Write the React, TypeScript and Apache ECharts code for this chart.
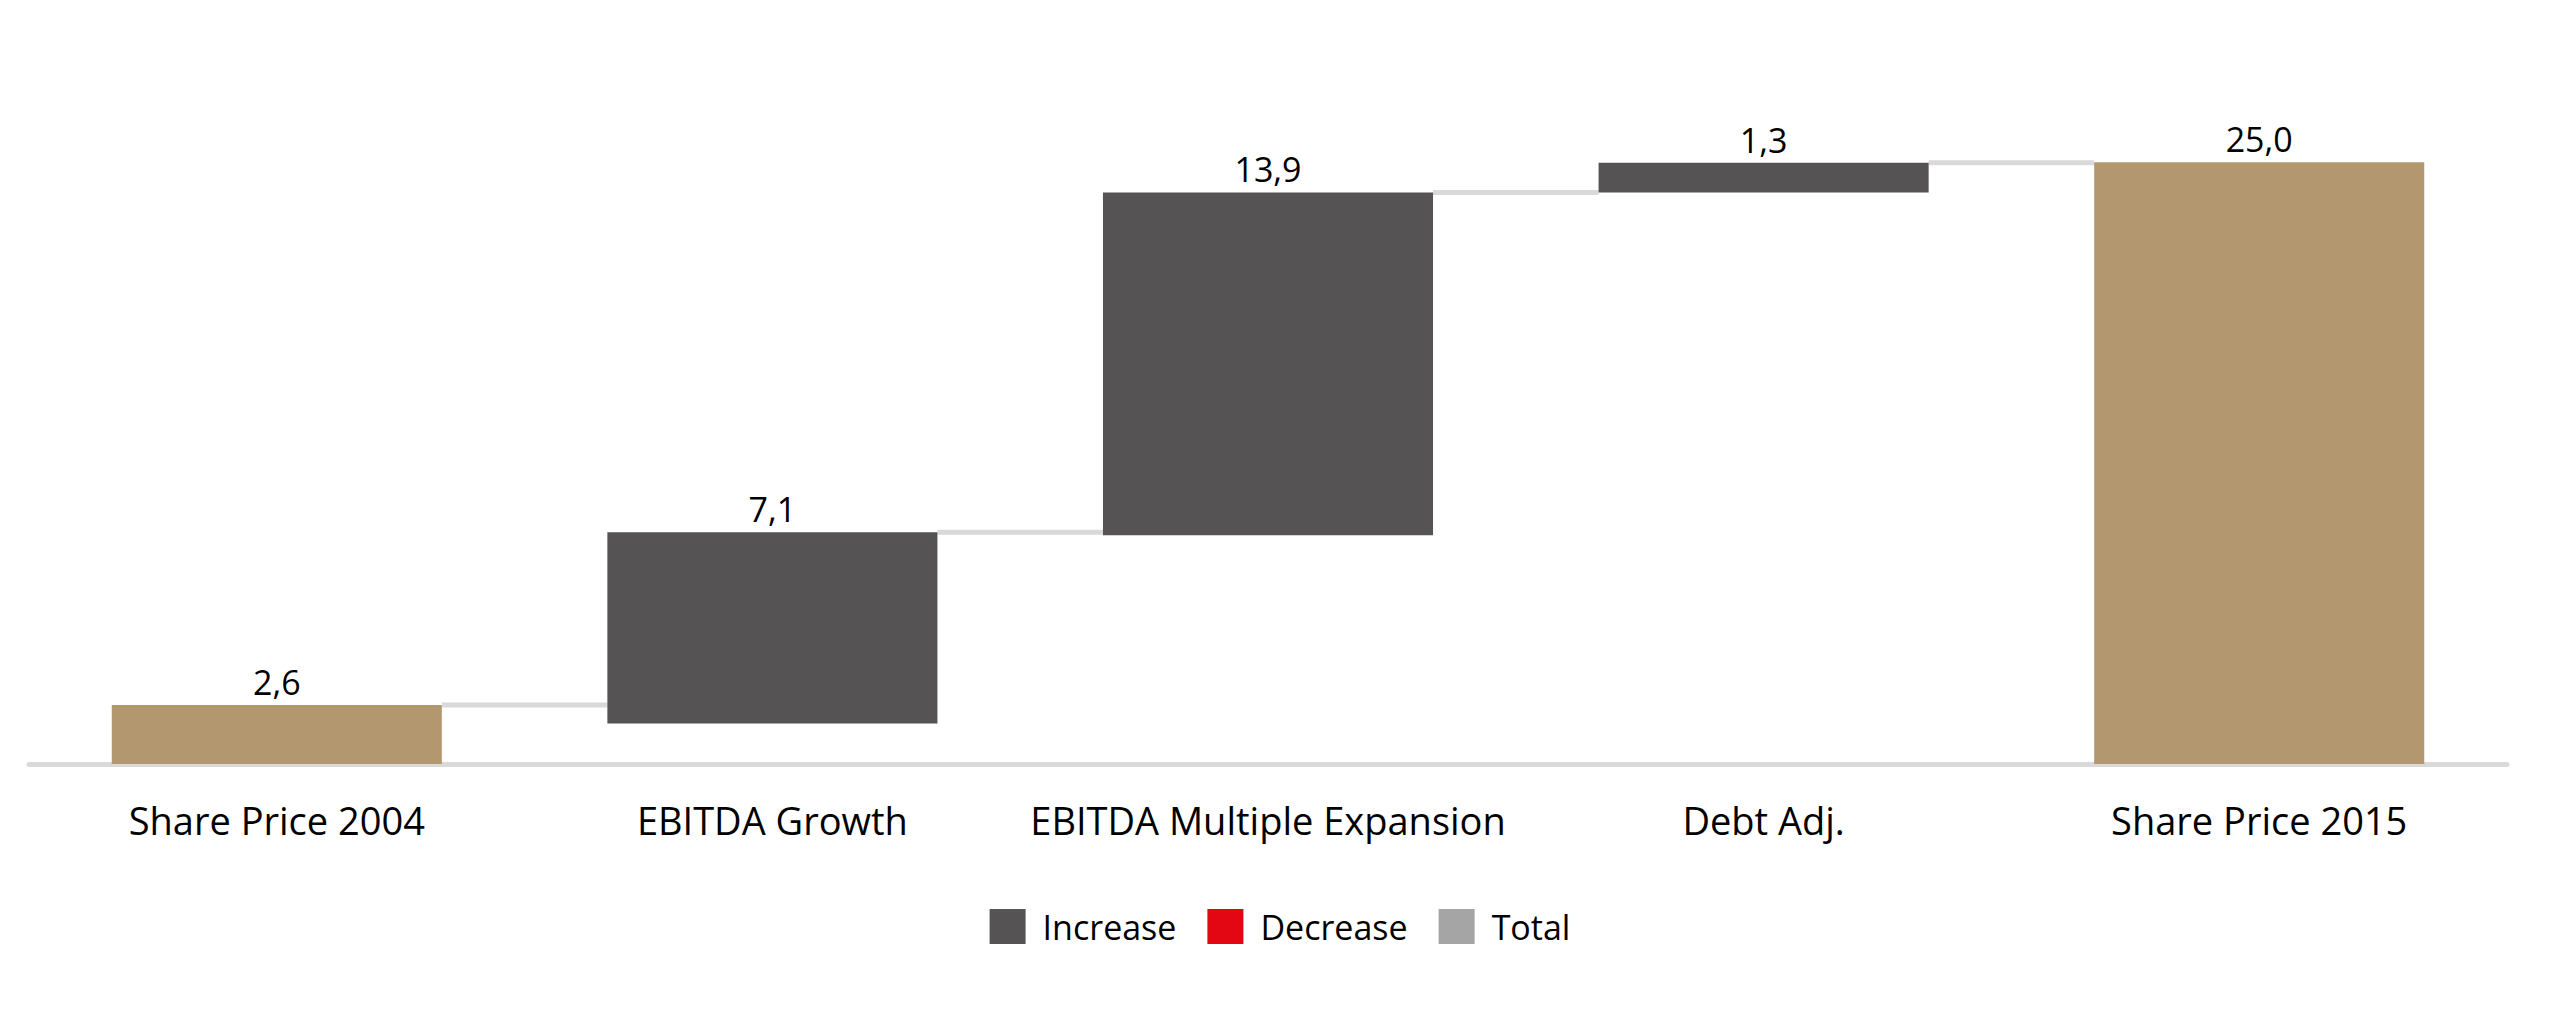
import React, { useEffect, useRef } from "react";
import * as echarts from "echarts";

// Categories and values shown in the labels
const categories = [
  "Share Price 2004",
  "EBITDA Growth",
  "EBITDA Multiple Expansion",
  "Debt Adj.",
  "Share Price 2015",
];
const labelValues = [2.6, 7.1, 13.9, 1.3, 25.0];
const kinds = ["total", "increase", "increase", "increase", "total"];

// Bar extents as drawn in the picture (bottom and top of each floating bar)
const barBottoms = [0, 1.68, 9.51, 23.75, 0];
const barTops = [2.45, 9.63, 23.75, 24.98, 25.0];

const legendNames = ["Increase", "Decrease", "Total"];
const legendColors = ["#555354", "#e30613", "#a5a5a5"];

const kindColors: Record<string, string> = {
  total: "#b3976f",
  increase: "#555354",
  decrease: "#e30613",
};

const FONT = "'Open Sans', 'Noto Sans', sans-serif";
const BAR_FRACTION = 0.666;

export default function App() {
  const ref = useRef<HTMLDivElement>(null);

  useEffect(() => {
    if (!ref.current) return;
    const chart = echarts.init(ref.current, undefined, { renderer: "svg" });

    const heights = barTops.map((t, i) => +(t - barBottoms[i]).toFixed(4));
    const connectorData = barTops.slice(0, -1).map((t, i) => [i, t]);

    const option: any = {
      animation: false,
      backgroundColor: "#ffffff",
      textStyle: { fontFamily: FONT },
      grid: { left: 29, right: 53, top: 42, bottom: 247, containLabel: false },
      legend: {
        top: 904,
        left: "center",
        itemWidth: 36,
        itemHeight: 35,
        itemGap: 31,
        icon: "rect",
        data: legendNames.map((n, i) => ({
          name: n,
          icon: "rect",
          itemStyle: { color: legendColors[i] },
        })),
        textStyle: {
          fontFamily: FONT,
          fontSize: 34,
          color: "#000000",
          padding: [0, 0, 0, 12],
        },
        selectedMode: false,
      },
      xAxis: {
        type: "category",
        data: categories,
        axisLine: { show: true, lineStyle: { color: "#d9d9d9", width: 5 } },
        axisTick: { show: false },
        axisLabel: {
          fontFamily: FONT,
          fontSize: 38,
          color: "#000000",
          margin: 37,
          interval: 0,
        },
        splitLine: { show: false },
      },
      yAxis: {
        type: "value",
        min: 0,
        max: 30,
        show: false,
        splitLine: { show: false },
      },
      series: [
        {
          name: "base",
          type: "bar",
          stack: "w",
          barWidth: (BAR_FRACTION * 100).toFixed(1) + "%",
          silent: true,
          itemStyle: { color: "transparent" },
          data: barBottoms,
        },
        {
          name: "value",
          type: "bar",
          stack: "w",
          barWidth: (BAR_FRACTION * 100).toFixed(1) + "%",
          data: heights.map((h, i) => ({
            value: h,
            itemStyle: { color: kindColors[kinds[i]] },
          })),
          label: {
            show: true,
            position: "top",
            distance: 6,
            fontFamily: FONT,
            fontSize: 34,
            color: "#000000",
            formatter: (p: any) =>
              labelValues[p.dataIndex].toFixed(1).replace(".", ","),
          },
        },
        ...legendNames.map((n, i) => ({
          name: n,
          type: "bar",
          stack: "w",
          data: [],
          itemStyle: { color: legendColors[i] },
        })),
        {
          name: "connectors",
          type: "custom",
          silent: true,
          z: 1,
          encode: { x: 0, y: 1 },
          data: connectorData,
          renderItem: (params: any, api: any) => {
            const idx = api.value(0);
            const level = api.value(1);
            const p = api.coord([idx, level]);
            const band = api.size([1, 0])[0];
            const half = (band * BAR_FRACTION) / 2;
            return {
              type: "line",
              shape: {
                x1: p[0] + half,
                y1: p[1],
                x2: p[0] + band - half,
                y2: p[1],
              },
              style: { stroke: "#d9d9d9", lineWidth: 5 },
            };
          },
        },
      ],
    };

    chart.setOption(option);
    return () => chart.dispose();
  }, []);

  return (
    <div
      ref={ref}
      style={{
        position: "fixed",
        left: 0,
        top: 0,
        width: "2560px",
        height: "1011px",
        background: "#ffffff",
      }}
    />
  );
}
